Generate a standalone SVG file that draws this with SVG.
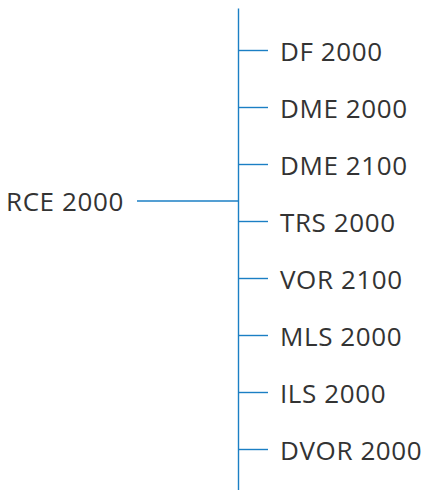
<svg xmlns="http://www.w3.org/2000/svg" width="426" height="490" viewBox="0 0 426 490">
<style>
.ln{stroke:#1b7fc4;stroke-width:1.4;fill:none}
.t{font-family:"Open Sans","Noto Sans",sans-serif;font-size:26px;letter-spacing:0.6px;fill:#333333}
</style>
<rect width="426" height="490" fill="#ffffff"/>
<g id="connectors">
<line class="ln" x1="238.5" y1="8.5" x2="238.5" y2="490"/>
<line class="ln" x1="137" y1="201" x2="238.5" y2="201"/>
<line class="ln" x1="238.5" y1="50.5" x2="268" y2="50.5"/>
<line class="ln" x1="238.5" y1="107.5" x2="268" y2="107.5"/>
<line class="ln" x1="238.5" y1="164.5" x2="268" y2="164.5"/>
<line class="ln" x1="238.5" y1="221.5" x2="268" y2="221.5"/>
<line class="ln" x1="238.5" y1="278.5" x2="268" y2="278.5"/>
<line class="ln" x1="238.5" y1="335.5" x2="268" y2="335.5"/>
<line class="ln" x1="238.5" y1="392.5" x2="268" y2="392.5"/>
<line class="ln" x1="238.5" y1="449.5" x2="268" y2="449.5"/>
</g>
<g id="rce"><text class="t" x="6" y="211">RCE 2000</text></g>
<g id="df"><text class="t" x="280" y="61">DF 2000</text></g>
<g id="dme2000"><text class="t" x="280" y="118">DME 2000</text></g>
<g id="dme2100"><text class="t" x="280" y="175">DME 2100</text></g>
<g id="trs"><text class="t" x="280" y="232">TRS 2000</text></g>
<g id="vor"><text class="t" x="280" y="289">VOR 2100</text></g>
<g id="mls"><text class="t" x="280" y="346">MLS 2000</text></g>
<g id="ils"><text class="t" x="280" y="403">ILS 2000</text></g>
<g id="dvor"><text class="t" x="280" y="460">DVOR 2000</text></g>
</svg>
